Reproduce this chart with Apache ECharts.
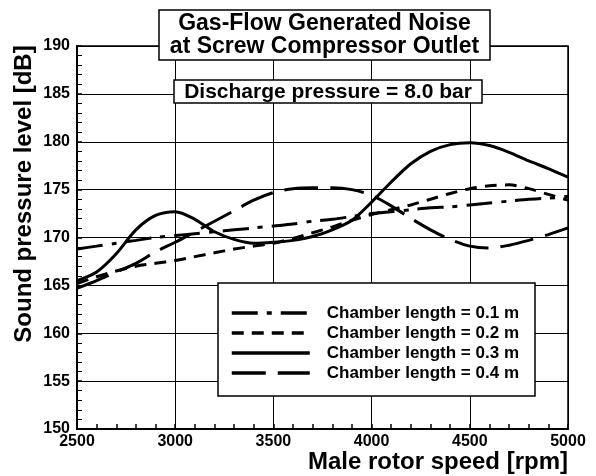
<!DOCTYPE html>
<html>
<head>
<meta charset="utf-8">
<script src="https://cdn.jsdelivr.net/npm/echarts@6/dist/echarts.min.js"></script>
<style>
  html, body { margin: 0; padding: 0; background: #fff; }
  #chart { width: 596px; height: 476px; }
</style>
</head>
<body>
<div id="chart"></div>
<script>
// rotor speed [rpm], shared by all curves
const rpm = [2500, 2600, 2700, 2800, 2900, 3000, 3100, 3200, 3300, 3400, 3500, 3600, 3700,
  3800, 3900, 4000, 4100, 4200, 4300, 4400, 4500, 4600, 4700, 4800, 4900, 5000];

// sound pressure level [dB] per chamber length
const len01 = [168.8, 169.1, 169.4, 169.7, 170.0, 170.2, 170.4, 170.6, 170.8, 171.0, 171.2, 171.4, 171.7,
  171.9, 172.2, 172.5, 172.7, 172.9, 173.1, 173.2, 173.4, 173.6, 173.8, 174.0, 174.1, 174.3];
const len02 = [165.2, 165.9, 166.5, 167.0, 167.3, 167.6, 168.0, 168.4, 168.8, 169.1, 169.4, 169.9, 170.5,
  171.1, 171.8, 172.4, 172.9, 173.4, 174.0, 174.6, 175.1, 175.4, 175.5, 175.1, 174.5, 173.9];
const len03 = [165.5, 166.4, 168.3, 170.8, 172.3, 172.7, 171.9, 170.6, 169.8, 169.4, 169.5, 169.7, 170.1,
  170.8, 171.8, 173.7, 175.8, 177.7, 179.0, 179.7, 179.9, 179.6, 178.9, 178.0, 177.2, 176.3];
const len04 = [164.7, 165.5, 166.4, 167.3, 168.5, 169.5, 170.6, 171.7, 172.8, 173.9, 174.7, 175.1, 175.2,
  175.2, 175.0, 174.4, 173.3, 172.0, 170.8, 169.8, 169.1, 168.9, 169.2, 169.7, 170.3, 171.0];

const seriesNames = ['Chamber length = 0.1 m', 'Chamber length = 0.2 m',
  'Chamber length = 0.3 m', 'Chamber length = 0.4 m'];
const dashes = [[26, 9, 5, 9], [12, 8], 'solid', [34, 12]];

const FONT = '"Liberation Sans", Arial, sans-serif';

const chart = echarts.init(document.getElementById('chart'));

const allValues = [len01, len02, len03, len04];
const series = allValues.map((vals, i) => ({
  name: seriesNames[i],
  type: 'line',
  smooth: 0.3,
  symbol: 'none',
  data: rpm.map((x, k) => [x, vals[k]]),
  itemStyle: { color: '#000' },
  lineStyle: { color: '#000', width: 3, type: dashes[i] },
  z: 2
}));

const option = {
  backgroundColor: '#fff',
  animation: false,
  grid: {
    left: 77, right: 28, top: 46, bottom: 47,
    show: true, borderColor: '#000', borderWidth: 1.5
  },
  xAxis: {
    type: 'value',
    min: 2500, max: 5000, interval: 500,
    axisLine: { show: true, lineStyle: { color: '#000', width: 2 } },
    axisTick: { show: true, inside: true, length: 5, lineStyle: { color: '#000', width: 1.5 } },
    minorTick: { show: true, splitNumber: 5, length: 5, lineStyle: { color: '#000', width: 1.5 } },
    splitLine: { show: true, lineStyle: { color: '#000', width: 1 } },
    axisLabel: {
      color: '#000', fontSize: 16, fontWeight: 'bold', fontFamily: FONT, margin: 5,
      formatter: v => String(v)
    }
  },
  yAxis: {
    type: 'value',
    min: 150, max: 190, interval: 5,
    axisLine: { show: true, lineStyle: { color: '#000', width: 2 } },
    axisTick: { show: true, inside: true, length: 5, lineStyle: { color: '#000', width: 1.5 } },
    minorTick: { show: true, splitNumber: 5, length: 5, lineStyle: { color: '#000', width: 1 } },
    splitLine: { show: true, lineStyle: { color: '#000', width: 1 } },
    axisLabel: {
      color: '#000', fontSize: 16, fontWeight: 'bold', fontFamily: FONT, margin: 7
    }
  },
  legend: {
    orient: 'vertical',
    left: 230, top: 303,
    padding: 0,
    itemGap: 0,
    itemWidth: 78,
    itemHeight: 20,
    data: seriesNames,
    itemStyle: { opacity: 0 },
    lineStyle: { width: 3.5 },
    textStyle: {
      color: '#000', fontSize: 17, fontWeight: 'bold', fontFamily: FONT,
      lineHeight: 20, padding: [0, 0, 0, 12]
    }
  },
  graphic: [
    // title box
    { type: 'rect', z: 3, shape: { x: 159, y: 10, width: 331, height: 50 },
      style: { fill: '#fff', stroke: '#000', lineWidth: 1.5 } },
    { type: 'text', z: 4, x: 324.5, y: 35.5,
      style: { text: 'Gas-Flow Generated Noise\nat Screw Compressor Outlet', align: 'center',
        verticalAlign: 'middle', font: 'bold 23px ' + FONT, lineHeight: 23, fill: '#000' } },
    // pressure box
    { type: 'rect', z: 3, shape: { x: 174, y: 80, width: 308, height: 23 },
      style: { fill: '#fff', stroke: '#000', lineWidth: 1.5 } },
    { type: 'text', z: 4, x: 328, y: 92,
      style: { text: 'Discharge pressure = 8.0 bar', align: 'center', verticalAlign: 'middle',
        font: 'bold 21px ' + FONT, fill: '#000' } },
    // legend box
    { type: 'rect', z: 3, shape: { x: 218, y: 283, width: 317, height: 113 },
      style: { fill: '#fff', stroke: '#000', lineWidth: 1.5 } },
    // axis titles
    { type: 'text', z: 4, x: 24, y: 194, rotation: Math.PI / 2,
      style: { text: 'Sound pressure level [dB]', align: 'center', verticalAlign: 'middle',
        font: 'bold 24px ' + FONT, fill: '#000' } },
    { type: 'text', z: 4, x: 568, y: 462,
      style: { text: 'Male rotor speed [rpm]', align: 'right', verticalAlign: 'middle',
        font: 'bold 24px ' + FONT, fill: '#000' } }
  ],
  series: series
};

chart.setOption(option);
</script>
</body>
</html>
